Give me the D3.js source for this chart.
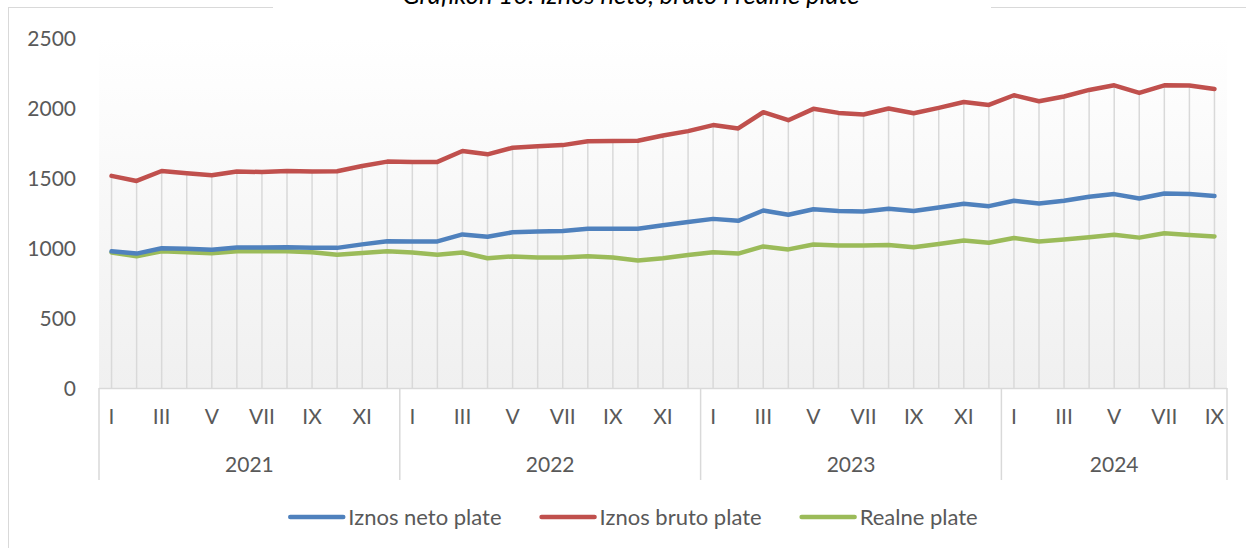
<!DOCTYPE html>
<html>
<head>
<meta charset="utf-8">
<script src="https://cdn.jsdelivr.net/npm/d3@7"></script>
<style>
  html, body { margin: 0; padding: 0; background: #fff; }
  text { font-family: Lato, "Open Sans", sans-serif; fill: #595959; }
</style>
</head>
<body>
<div id="chart"></div>
<script>
// podaci
const monthNames = ['I', 'II', 'III', 'IV', 'V', 'VI', 'VII', 'VIII', 'IX', 'X', 'XI', 'XII'];
const years = [2021, 2022, 2023, 2024];
const monthsPerYear = [12, 12, 12, 9];
const yTicks = [0, 500, 1000, 1500, 2000, 2500];

const neto = [
  977, 960, 998, 994, 987, 1003, 1003, 1005, 1001, 1001, 1026, 1048,
  1047, 1047, 1097, 1080, 1112, 1117, 1122, 1137, 1138, 1138, 1163, 1185,
  1208, 1194, 1268, 1238, 1277, 1265, 1261, 1280, 1264, 1290, 1316, 1299,
  1337, 1318, 1337, 1366, 1385, 1354, 1389, 1385, 1371
];
const bruto = [
  1515, 1479, 1550, 1534, 1520, 1546, 1543, 1550, 1546, 1548, 1586, 1617,
  1615, 1615, 1693, 1669, 1716, 1726, 1735, 1762, 1764, 1766, 1804, 1835,
  1878, 1854, 1970, 1913, 1994, 1965, 1954, 1996, 1963, 2001, 2043, 2022,
  2091, 2048, 2082, 2129, 2162, 2108, 2162, 2160, 2136
];
const realne = [
  967, 941, 977, 970, 963, 977, 977, 977, 970, 951, 965, 977,
  968, 951, 968, 927, 940, 932, 932, 941, 932, 910, 927, 950,
  970, 960, 1011, 990, 1025, 1018, 1017, 1022, 1005, 1029, 1053, 1038,
  1072, 1046, 1060, 1076, 1095, 1074, 1105, 1093, 1083
];

const seriesNames = ['Iznos neto plate', 'Iznos bruto plate', 'Realne plate'];
const seriesColors = ['#4f81bd', '#c0504d', '#9bbb59'];
const seriesValues = [neto, bruto, realne];

// kategorije: godina + mjesec
const categories = [];
years.forEach(function (y, yi) {
  for (let m = 0; m < monthsPerYear[yi]; m++) {
    categories.push({ key: y + '-' + (m + 1), year: y, month: m });
  }
});

const W = 1246, H = 548;
const plot = { left: 99, right: 1227, top: 38, bottom: 388 };
const FS = '21px';

const svg = d3.select('#chart').append('svg').attr('width', W).attr('height', H);

// gradient pozadine
const defs = svg.append('defs');
const grad = defs.append('linearGradient').attr('id', 'bg').attr('x1', 0).attr('y1', 0).attr('x2', 0).attr('y2', 1);
grad.append('stop').attr('offset', '0%').attr('stop-color', '#ffffff');
grad.append('stop').attr('offset', '100%').attr('stop-color', '#f0f0f0');

// okvir
svg.append('rect').attr('x', 8.5).attr('y', 7.5).attr('width', 1260).attr('height', 580)
  .attr('fill', '#fff').attr('stroke', '#d9d9d9').attr('stroke-width', 1);

// naslov (djelomično odsječen, kao u izvorniku)
svg.append('rect').attr('x', 273).attr('y', 0).attr('width', 718).attr('height', 12).attr('fill', '#fff');
svg.append('text').attr('x', 631).attr('y', 4).attr('text-anchor', 'middle')
  .style('font-style', 'italic').style('font-size', '25.5px').style('fill', '#000')
  .text('Grafikon 10: Iznos neto, bruto i realne plate');

const x = d3.scaleBand().domain(categories.map(d => d.key)).range([plot.left, plot.right]);
const y = d3.scaleLinear().domain([0, 2500]).range([plot.bottom, plot.top]);
const cx = k => x(k) + x.bandwidth() / 2;

svg.append('rect').attr('x', plot.left).attr('y', plot.top)
  .attr('width', plot.right - plot.left).attr('height', plot.bottom - plot.top)
  .attr('fill', 'url(#bg)');

// y os
const yAxis = svg.append('g').attr('transform', 'translate(' + (plot.left - 23) + ',0)')
  .call(d3.axisLeft(y).tickValues(yTicks).tickFormat(d3.format('d')).tickSize(0).tickPadding(0));
yAxis.select('.domain').remove();
yAxis.selectAll('text').style('font-size', FS).style('fill', '#595959')
  .style('font-family', 'Lato, sans-serif').attr('dy', '0.35em');

// linije spuštanja
const tops = categories.map((c, i) => Math.max(neto[i], bruto[i], realne[i]));
svg.append('g').selectAll('line').data(categories).join('line')
  .attr('x1', d => cx(d.key)).attr('x2', d => cx(d.key))
  .attr('y1', (d, i) => y(tops[i])).attr('y2', plot.bottom)
  .attr('stroke', '#d9d9d9').attr('stroke-width', 1.5);

// x os: mjeseci i godine
const axisG = svg.append('g');
axisG.append('line').attr('x1', plot.left).attr('x2', plot.right)
  .attr('y1', plot.bottom + 0.5).attr('y2', plot.bottom + 0.5)
  .attr('stroke', '#d9d9d9').attr('stroke-width', 1.5);

let start = 0;
const yearBounds = [];
years.forEach(function (yr, yi) {
  const first = categories[start].key;
  const last = categories[start + monthsPerYear[yi] - 1].key;
  yearBounds.push({ year: yr, x0: x(first), x1: x(last) + x.bandwidth() });
  start += monthsPerYear[yi];
});
const sepX = [yearBounds[0].x0].concat(yearBounds.map(b => b.x1));
axisG.selectAll('.sep').data(sepX).join('line').attr('class', 'sep')
  .attr('x1', d => d).attr('x2', d => d)
  .attr('y1', plot.bottom).attr('y2', 480)
  .attr('stroke', '#d9d9d9').attr('stroke-width', 1.5);

axisG.selectAll('.month').data(categories.filter(c => c.month % 2 === 0)).join('text')
  .attr('class', 'month')
  .attr('x', d => cx(d.key)).attr('y', 417).attr('dy', '0.35em')
  .attr('text-anchor', 'middle').style('font-size', FS)
  .text(d => monthNames[d.month]);

axisG.selectAll('.year').data(yearBounds).join('text')
  .attr('class', 'year')
  .attr('x', d => (d.x0 + d.x1) / 2).attr('y', 465).attr('dy', '0.35em')
  .attr('text-anchor', 'middle').style('font-size', FS)
  .text(d => d.year);

// serije
const line = d3.line().x((d, i) => cx(categories[i].key)).y(d => y(d));
const drawOrder = [2, 0, 1];
drawOrder.forEach(function (s) {
  svg.append('path').datum(seriesValues[s])
    .attr('d', line).attr('fill', 'none')
    .attr('stroke', seriesColors[s]).attr('stroke-width', 4.5)
    .attr('stroke-linejoin', 'round').attr('stroke-linecap', 'round');
});

// legenda
const legend = svg.append('g');
const items = legend.selectAll('g').data(seriesNames).join('g');
items.append('line').attr('x1', 0).attr('x2', 53).attr('y1', 0).attr('y2', 0)
  .attr('stroke', (d, i) => seriesColors[i]).attr('stroke-width', 4.5).attr('stroke-linecap', 'round');
items.append('text').attr('x', 58).attr('dy', '0.35em').style('font-size', '22px').text(d => d);
let lx = 0;
items.each(function () {
  const w = d3.select(this).select('text').node().getComputedTextLength();
  d3.select(this).attr('transform', 'translate(' + lx + ',0)');
  lx += 58 + w + 40;
});
lx -= 40;
legend.attr('transform', 'translate(' + (634 - lx / 2) + ',517)');
</script>
</body>
</html>
